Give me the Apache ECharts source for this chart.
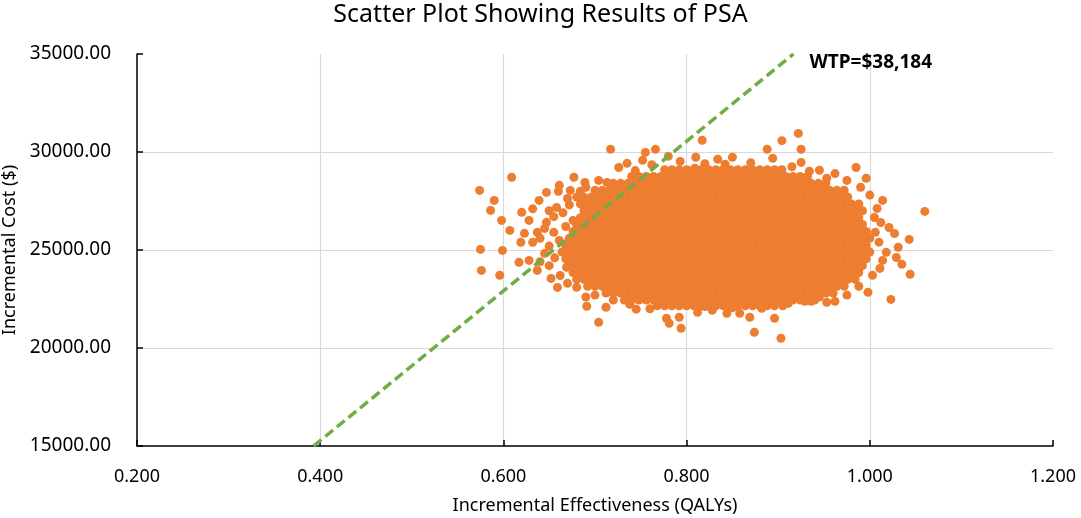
<!DOCTYPE html>
<html>
<head>
<meta charset="UTF-8">
<title>Scatter Plot Showing Results of PSA</title>
<script src="https://cdn.jsdelivr.net/npm/echarts@6/dist/echarts.min.js"></script>
<style>
 html,body{margin:0;padding:0;background:#fff;}
 #main{width:1081px;height:518px;}
</style>
</head>
<body>
<div id="main"></div>
<script>
// axis setup
var xMin = 0.2, xMax = 1.2, xStep = 0.2;
var yMin = 15000, yMax = 35000, yStep = 5000;
var wtp = 38184;

// dense core of the PSA cloud: one cost value per row, with the effect values on that row
var costRows = [29100, 28750, 28400, 28050, 27700, 27350, 27000, 26650, 26300, 25950, 25600,
  25250, 24900, 24550, 24200, 23850, 23500, 23150, 22800, 22450, 22150];
var effectRows = [
  [0.776,0.784,0.792,0.800,0.808,0.816,0.824,0.832,0.840,0.848,0.856,0.864,0.872,0.880,0.888,0.896,0.904],
  [0.740,0.748,0.756,0.764,0.772,0.780,0.788,0.796,0.804,0.812,0.820,0.828,0.836,0.844,0.852,0.860,0.868,0.876,0.884,0.892,0.900,0.908,0.916,0.924,0.932],
  [0.720,0.728,0.736,0.744,0.752,0.760,0.768,0.776,0.784,0.792,0.800,0.808,0.816,0.824,0.832,0.840,0.848,0.856,0.864,0.872,0.880,0.888,0.896,0.904,0.912,0.920,0.928,0.936,0.944,0.952],
  [0.700,0.708,0.716,0.724,0.732,0.740,0.748,0.756,0.764,0.772,0.780,0.788,0.796,0.804,0.812,0.820,0.828,0.836,0.844,0.852,0.860,0.868,0.876,0.884,0.892,0.900,0.908,0.916,0.924,0.932,0.940,0.948,0.956,0.964,0.972],
  [0.688,0.696,0.704,0.712,0.720,0.728,0.736,0.744,0.752,0.760,0.768,0.776,0.784,0.792,0.800,0.808,0.816,0.824,0.832,0.840,0.848,0.856,0.864,0.872,0.880,0.888,0.896,0.904,0.912,0.920,0.928,0.936,0.944,0.952,0.960,0.968,0.976],
  [0.684,0.692,0.700,0.708,0.716,0.724,0.732,0.740,0.748,0.756,0.764,0.772,0.780,0.788,0.796,0.804,0.812,0.820,0.828,0.836,0.844,0.852,0.860,0.868,0.876,0.884,0.892,0.900,0.908,0.916,0.924,0.932,0.940,0.948,0.956,0.964,0.972,0.980,0.988],
  [0.688,0.696,0.704,0.712,0.720,0.728,0.736,0.744,0.752,0.760,0.768,0.776,0.784,0.792,0.800,0.808,0.816,0.824,0.832,0.840,0.848,0.856,0.864,0.872,0.880,0.888,0.896,0.904,0.912,0.920,0.928,0.936,0.944,0.952,0.960,0.968,0.976,0.984,0.992],
  [0.684,0.692,0.700,0.708,0.716,0.724,0.732,0.740,0.748,0.756,0.764,0.772,0.780,0.788,0.796,0.804,0.812,0.820,0.828,0.836,0.844,0.852,0.860,0.868,0.876,0.884,0.892,0.900,0.908,0.916,0.924,0.932,0.940,0.948,0.956,0.964,0.972,0.980,0.988],
  [0.680,0.688,0.696,0.704,0.712,0.720,0.728,0.736,0.744,0.752,0.760,0.768,0.776,0.784,0.792,0.800,0.808,0.816,0.824,0.832,0.840,0.848,0.856,0.864,0.872,0.880,0.888,0.896,0.904,0.912,0.920,0.928,0.936,0.944,0.952,0.960,0.968,0.976,0.984,0.992],
  [0.676,0.684,0.692,0.700,0.708,0.716,0.724,0.732,0.740,0.748,0.756,0.764,0.772,0.780,0.788,0.796,0.804,0.812,0.820,0.828,0.836,0.844,0.852,0.860,0.868,0.876,0.884,0.892,0.900,0.908,0.916,0.924,0.932,0.940,0.948,0.956,0.964,0.972,0.980,0.988,0.996],
  [0.672,0.680,0.688,0.696,0.704,0.712,0.720,0.728,0.736,0.744,0.752,0.760,0.768,0.776,0.784,0.792,0.800,0.808,0.816,0.824,0.832,0.840,0.848,0.856,0.864,0.872,0.880,0.888,0.896,0.904,0.912,0.920,0.928,0.936,0.944,0.952,0.960,0.968,0.976,0.984,0.992,1.000],
  [0.668,0.676,0.684,0.692,0.700,0.708,0.716,0.724,0.732,0.740,0.748,0.756,0.764,0.772,0.780,0.788,0.796,0.804,0.812,0.820,0.828,0.836,0.844,0.852,0.860,0.868,0.876,0.884,0.892,0.900,0.908,0.916,0.924,0.932,0.940,0.948,0.956,0.964,0.972,0.980,0.988,0.996],
  [0.664,0.672,0.680,0.688,0.696,0.704,0.712,0.720,0.728,0.736,0.744,0.752,0.760,0.768,0.776,0.784,0.792,0.800,0.808,0.816,0.824,0.832,0.840,0.848,0.856,0.864,0.872,0.880,0.888,0.896,0.904,0.912,0.920,0.928,0.936,0.944,0.952,0.960,0.968,0.976,0.984,0.992,1.000],
  [0.668,0.676,0.684,0.692,0.700,0.708,0.716,0.724,0.732,0.740,0.748,0.756,0.764,0.772,0.780,0.788,0.796,0.804,0.812,0.820,0.828,0.836,0.844,0.852,0.860,0.868,0.876,0.884,0.892,0.900,0.908,0.916,0.924,0.932,0.940,0.948,0.956,0.964,0.972,0.980,0.988,0.996],
  [0.672,0.680,0.688,0.696,0.704,0.712,0.720,0.728,0.736,0.744,0.752,0.760,0.768,0.776,0.784,0.792,0.800,0.808,0.816,0.824,0.832,0.840,0.848,0.856,0.864,0.872,0.880,0.888,0.896,0.904,0.912,0.920,0.928,0.936,0.944,0.952,0.960,0.968,0.976,0.984,0.992],
  [0.676,0.684,0.692,0.700,0.708,0.716,0.724,0.732,0.740,0.748,0.756,0.764,0.772,0.780,0.788,0.796,0.804,0.812,0.820,0.828,0.836,0.844,0.852,0.860,0.868,0.876,0.884,0.892,0.900,0.908,0.916,0.924,0.932,0.940,0.948,0.956,0.964,0.972,0.980,0.988],
  [0.680,0.688,0.696,0.704,0.712,0.720,0.728,0.736,0.744,0.752,0.760,0.768,0.776,0.784,0.792,0.800,0.808,0.816,0.824,0.832,0.840,0.848,0.856,0.864,0.872,0.880,0.888,0.896,0.904,0.912,0.920,0.928,0.936,0.944,0.952,0.960,0.968,0.976,0.984],
  [0.692,0.700,0.708,0.716,0.724,0.732,0.740,0.748,0.756,0.764,0.772,0.780,0.788,0.796,0.804,0.812,0.820,0.828,0.836,0.844,0.852,0.860,0.868,0.876,0.884,0.892,0.900,0.908,0.916,0.924,0.932,0.940,0.948,0.956,0.964,0.972],
  [0.712,0.720,0.728,0.736,0.744,0.752,0.760,0.768,0.776,0.784,0.792,0.800,0.808,0.816,0.824,0.832,0.840,0.848,0.856,0.864,0.872,0.880,0.888,0.896,0.904,0.912,0.920,0.928,0.936,0.944,0.952,0.960],
  [0.732,0.740,0.748,0.756,0.764,0.772,0.780,0.788,0.796,0.804,0.812,0.820,0.828,0.836,0.844,0.852,0.860,0.868,0.876,0.884,0.892,0.900,0.908,0.916,0.924,0.932,0.940],
  [0.768,0.776,0.784,0.792,0.800,0.808,0.816,0.824,0.832,0.840,0.848,0.856,0.864,0.872,0.880,0.888,0.896]
];

// scattered simulations round the edge of the cloud [effect, cost]
var sparsePoints = [
  // top
  [0.717,30140],[0.755,29980],[0.766,30140],[0.817,30600],[0.904,30580],[0.922,30950],[0.925,30140],[0.888,30140],
  [0.735,29420],[0.726,29210],[0.752,29580],[0.780,29780],[0.793,29520],[0.810,29730],[0.809,29170],[0.834,29630],
  [0.850,29730],[0.894,29680],[0.925,29470],[0.985,29210],[0.945,29070],[0.704,28550],[0.996,28660],[0.953,28660],
  [0.975,28550],[0.689,28450],[0.713,28450],[0.870,29450],[0.762,29350],[0.915,29250],[0.842,29380],[0.962,28900],
  [0.934,29020],[0.744,29050],[0.820,29400],
  // right
  [1.014,27530],[1.060,26970],[1.043,25540],[1.027,25840],[1.021,26150],[1.031,25140],[1.035,24270],[1.044,23760],
  [1.023,22480],[1.003,23710],[0.998,22840],[1.008,27120],[1.005,26660],[1.018,24880],[1.029,24620],[1.014,24470],
  [1.011,24060],[1.010,25400],[1.012,26400],[0.990,28200],[1.000,27800],[0.988,23150],[0.975,22700],[1.006,25900],
  // bottom
  [0.896,21520],[0.874,20800],[0.903,20500],[0.869,21570],[0.929,22380],[0.936,22380],[0.953,22330],[0.962,22380],
  [0.691,22130],[0.712,22080],[0.704,21310],[0.738,22230],[0.745,21980],[0.778,21520],[0.781,21260],[0.794,21010],
  [0.792,21570],[0.812,21820],[0.828,21920],[0.844,21770],[0.858,21770],[0.882,22030],[0.911,22280],[0.700,22700],
  [0.720,22450],[0.760,22000],[0.820,22120],[0.850,22050],[0.905,22150],[0.945,22600],[0.690,22600],
  // left
  [0.574,28040],[0.609,28710],[0.590,27530],[0.586,27020],[0.598,26510],[0.607,26000],[0.575,25030],[0.599,24980],
  [0.576,23960],[0.596,23710],[0.619,25390],[0.620,26920],[0.628,26510],[0.623,25850],[0.617,24370],[0.639,27530],
  [0.647,27940],[0.661,28300],[0.677,28710],[0.637,25900],[0.632,25390],[0.628,24470],[0.637,23960],[0.652,23550],
  [0.659,23090],[0.647,26410],[0.645,24830],[0.658,27170],[0.670,27630],[0.661,25490],[0.669,24120],[0.676,26510],
  [0.673,28040],[0.650,27000],[0.655,26700],[0.665,26900],[0.672,27300],[0.680,27700],[0.668,26200],[0.655,25900],
  [0.650,25200],[0.656,24600],[0.650,24200],[0.662,23700],[0.670,23300],[0.680,23100],[0.640,25600],[0.645,26100],
  [0.632,27100],[0.640,24400],[0.660,28000],[0.690,28200],[0.684,28000]
];

var psaData = [];
for (var i = 0; i < costRows.length; i++) {
  for (var j = 0; j < effectRows[i].length; j++) {
    psaData.push([effectRows[i][j], costRows[i]]);
  }
}
psaData = psaData.concat(sparsePoints);

// WTP threshold line, cost = wtp * effect, across the visible cost range
var wtpLine = [[yMin / wtp, yMin], [yMax / wtp, yMax]];

var fontFam = '"Noto Sans", "Open Sans", sans-serif';
var myChart = echarts.init(document.getElementById('main'));
var option = {
  backgroundColor: '#fff',
  animation: false,
  textStyle: {fontFamily: fontFam},
  title: {
    text: 'Scatter Plot Showing Results of PSA',
    left: 'center',
    top: -3,
    textStyle: {fontFamily: fontFam, fontSize: 25, fontWeight: 'normal', color: '#000'}
  },
  grid: {left: 137, right: 28, top: 54, bottom: 72, containLabel: false, outerBoundsMode: 'none'},
  xAxis: {
    type: 'value',
    min: xMin, max: xMax, interval: xStep,
    name: 'Incremental Effectiveness (QALYs)',
    nameLocation: 'middle',
    nameGap: 51,
    nameTextStyle: {fontFamily: fontFam, fontSize: 18, color: '#000'},
    axisLine: {show: true, onZero: false, lineStyle: {color: '#000', width: 1.5}},
    axisTick: {show: true, inside: true, length: 6, lineStyle: {color: '#000', width: 1.5}},
    axisLabel: {
      margin: 22, fontSize: 18, color: '#000', fontFamily: fontFam,
      formatter: function (v) { return v.toFixed(3); }
    },
    splitLine: {show: true, showMinLine: false, showMaxLine: false, lineStyle: {color: '#d9d9d9', width: 1.2}}
  },
  yAxis: {
    type: 'value',
    min: yMin, max: yMax, interval: yStep,
    name: 'Incremental Cost ($)',
    nameLocation: 'middle',
    nameGap: 116,
    nameTextStyle: {fontFamily: fontFam, fontSize: 18, color: '#000'},
    axisLine: {show: true, onZero: false, lineStyle: {color: '#000', width: 1.5}},
    axisTick: {show: true, inside: true, length: 6, lineStyle: {color: '#000', width: 1.5}},
    axisLabel: {
      margin: 26, fontSize: 19, color: '#000', fontFamily: fontFam,
      formatter: function (v) { return v.toFixed(2); }
    },
    splitLine: {show: true, showMinLine: false, showMaxLine: false, lineStyle: {color: '#d9d9d9', width: 1.2}}
  },
  series: [
    {
      name: 'PSA',
      type: 'scatter',
      symbol: 'circle',
      symbolSize: 9,
      itemStyle: {color: '#ed7d31', opacity: 1},
      data: psaData,
      z: 2
    },
    {
      name: 'WTP',
      type: 'line',
      showSymbol: false,
      symbol: 'none',
      data: wtpLine,
      lineStyle: {color: '#70ad47', width: 3.5, type: [10, 5]},
      endLabel: {
        show: true,
        formatter: 'WTP=$38,184',
        distance: 16,
        offset: [0, 9],
        fontFamily: fontFam,
        fontSize: 19,
        fontWeight: 'bold',
        color: '#000'
      },
      z: 3
    }
  ]
};
myChart.setOption(option);
</script>
</body>
</html>
